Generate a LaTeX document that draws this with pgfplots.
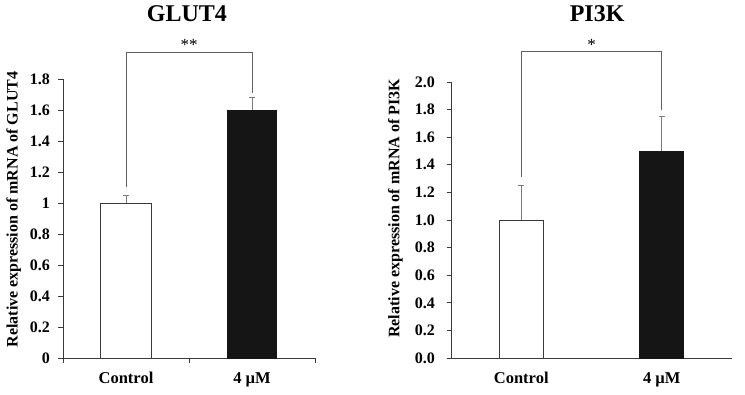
\documentclass[border=0pt]{standalone}
\usepackage{fontspec}
\setmainfont{Liberation Serif}
\usepackage{pgfplots}
\pgfplotsset{compat=1.18}

\definecolor{axisgray}{HTML}{3A3A3A}
\definecolor{errgray}{HTML}{7A7A7A}
\definecolor{brgray}{HTML}{606060}
\definecolor{barblack}{HTML}{151515}

\pgfplotsset{
  panel/.style={
    scale only axis,
    axis x line*=bottom, axis y line*=left,
    xmin=-0.5, xmax=1.5, ymin=0,
    axis line style={axisgray, line width=0.8pt},
    tick align=outside, major tick length=4.5pt,
    tick style={axisgray, line width=0.8pt},
    /pgf/number format/assume math mode=true,
    yticklabel style={anchor=east, font=\fontsize{16}{18}\selectfont\bfseries},
    xticklabel style={font=\fontsize{16.5}{18}\selectfont\bfseries},
    label style={font=\fontsize{16}{18}\selectfont\bfseries},
    every axis title shift=0pt,
    title style={font=\fontsize{24}{28}\selectfont\bfseries, anchor=center},
    clip=false,
  },
  ctrlbar/.style={ybar, bar shift=0pt, fill=white, draw=axisgray, line width=0.8pt,
    error bars/y dir=plus, error bars/y explicit,
    error bars/error bar style={errgray, line width=0.8pt},
    error bars/error mark options={errgray, rotate=90, mark size=3pt, line width=0.8pt}},
  treatbar/.style={ybar, bar shift=0pt, fill=barblack, draw=barblack, line width=0.8pt,
    error bars/y dir=plus, error bars/y explicit,
    error bars/error bar style={errgray, line width=0.8pt},
    error bars/error mark options={errgray, rotate=90, mark size=3pt, line width=0.8pt}},
}

\begin{document}
\begin{tikzpicture}
\path[use as bounding box] (0,0) rectangle (745pt,394pt);

% GLUT4 panel
\begin{axis}[panel,
  at={(63pt,36pt)}, anchor=south west,
  width=252pt, height=279pt, ymax=1.8,
  ytick={0,0.2,0.4,0.6,0.8,1,1.2,1.4,1.6,1.8},
  yticklabel style={xshift=-5pt},
  xtick={-0.5,0.5,1.5}, xticklabels={,,},
  extra x ticks={0,1}, extra x tick labels={Control,4 µM},
  extra x tick style={major tick length=0pt, xticklabel style={anchor=base, yshift=-25.5pt}},
  ylabel={Relative expression of mRNA of GLUT4},
  ylabel style={at={(axis description cs:-0.196,0.532)}, anchor=center},
  title={GLUT4},
  title style={at={(axis description cs:0.492,1.233)}},
]
\addplot[bar width=51pt, ctrlbar] coordinates {(0,1.00) +- (0,0.05)};
\addplot[bar width=49pt, treatbar] coordinates {(1,1.60) +- (0,0.08)};
\draw[brgray, line width=0.8pt] (axis cs:0,1.10) -- (axis cs:0,1.97) -- (axis cs:1,1.97) -- (axis cs:1,1.71);
\node[font=\fontsize{17}{18}\selectfont, anchor=base] at (axis cs:0.5,1.985) {**};
\end{axis}

% PI3K panel
\begin{axis}[panel,
  at={(451pt,36pt)}, anchor=south west,
  width=281pt, height=276pt, ymax=2.0,
  ytick={0,0.2,0.4,0.6,0.8,1,1.2,1.4,1.6,1.8,2.0},
  yticklabel style={xshift=-8pt, /pgf/number format/.cd, fixed, fixed zerofill, precision=1},
  xtick={0,1}, xticklabels={Control,4 µM},
  xtick style={draw=none},
  xticklabel style={anchor=base, yshift=-21pt},
  ylabel={Relative expression of mRNA of PI3K},
  ylabel style={at={(axis description cs:-0.1975,0.542)}, anchor=center},
  title={PI3K},
  title style={at={(axis description cs:0.520,1.246)}},
]
\addplot[bar width=44pt, ctrlbar] coordinates {(0,1.00) +- (0,0.25)};
\addplot[bar width=44pt, treatbar] coordinates {(1,1.50) +- (0,0.25)};
\draw[brgray, line width=0.8pt] (axis cs:0,1.31) -- (axis cs:0,2.22) -- (axis cs:1,2.22) -- (axis cs:1,1.80);
\node[font=\fontsize{17}{18}\selectfont, anchor=base] at (axis cs:0.5,2.225) {*};
\end{axis}
\end{tikzpicture}
\end{document}
